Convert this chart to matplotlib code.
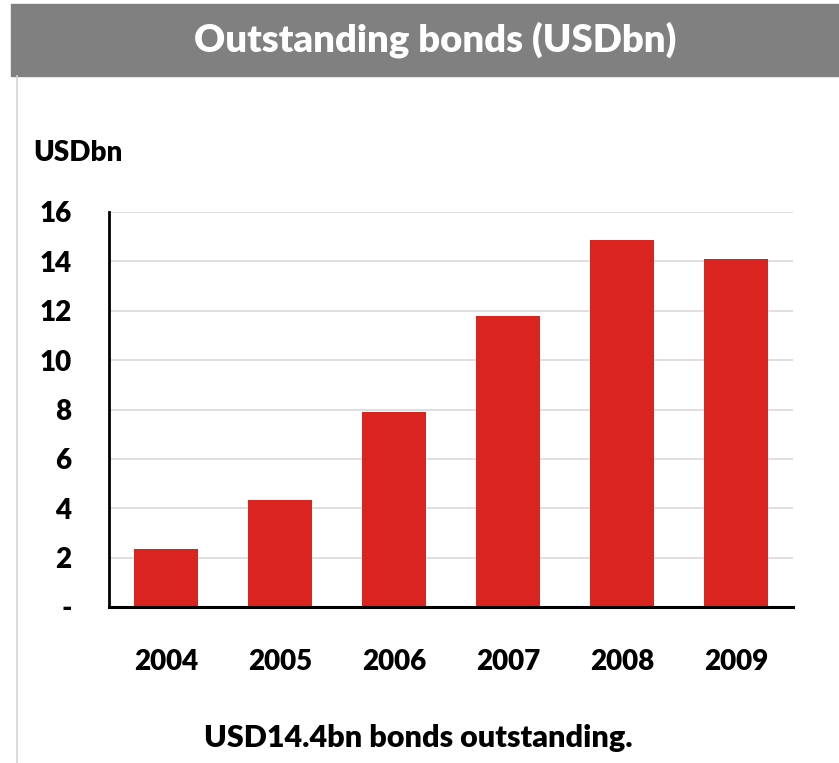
import matplotlib
matplotlib.use('Agg')
import matplotlib.pyplot as plt
import matplotlib.patheffects as pe
from matplotlib.patches import Rectangle
from matplotlib.lines import Line2D

# ── Data ──────────────────────────────────────────────────────────────────────
years = ['2004', '2005', '2006', '2007', '2008', '2009']
outstanding = [2.35, 4.33, 7.9, 11.8, 14.88, 14.1]
y_ticks = [0, 2, 4, 6, 8, 10, 12, 14, 16]
y_tick_labels = ['-', '2', '4', '6', '8', '10', '12', '14', '16']

W, H = 839, 763
FONT = ['Lato', 'DejaVu Sans']
plt.rcParams['font.family'] = FONT
WEIGHT = 'heavy'

fig = plt.figure(figsize=(W / 100, H / 100), dpi=100)

# ── Header band and frame ─────────────────────────────────────────────────────
fig.patches.append(Rectangle((11 / W, 1 - 76 / H), 1 - 11 / W, 72 / H,
                             transform=fig.transFigure, color='#808080', zorder=0))
fig.lines.append(Line2D([17 / W, 17 / W], [0, 1 - 76 / H], transform=fig.transFigure,
                        color='#d4d4d4', lw=1.2))
fig.text(435 / W, 1 - 40 / H, 'Outstanding bonds (USDbn)', color='white',
         fontsize=27.5, fontweight=WEIGHT, ha='center', va='center')

# ── Axes ──────────────────────────────────────────────────────────────────────
ax = fig.add_axes([109 / W, 1 - 607 / H, (793 - 109) / W, (607 - 212) / H])
x = range(len(years))
bars = ax.bar(x, outstanding, width=0.57, color='#da241f', zorder=3)
for b in bars:
    b.set_path_effects([pe.SimplePatchShadow(offset=(0, -3), shadow_rgbFace='#999999', alpha=0.4),
                        pe.Normal()])

ax.set_xlim(-0.5, len(years) - 0.5)
ax.set_ylim(0, 16)
ax.set_yticks(y_ticks)
ax.set_yticklabels(y_tick_labels)
ax.set_xticks(list(x))
ax.set_xticklabels(years)
ax.tick_params(axis='both', length=0, labelsize=20)
ax.tick_params(axis='y', pad=27)
ax.tick_params(axis='x', pad=30)
for lbl in ax.get_xticklabels() + ax.get_yticklabels():
    lbl.set_fontweight(WEIGHT)

ax.yaxis.grid(True, color='#d9d9d9', lw=1.2, zorder=0)
ax.set_axisbelow(True)
for side in ['top', 'right']:
    ax.spines[side].set_visible(False)
ax.spines['left'].set_linewidth(2)
ax.spines['bottom'].set_linewidth(2.2)
ax.spines['left'].set_zorder(5)
ax.spines['bottom'].set_zorder(5)

fig.text(33 / W, 1 - 153 / H, 'USDbn', fontsize=20, fontweight=WEIGHT, ha='left', va='center')
fig.text(418 / W, 1 - 738 / H, 'USD14.4bn bonds outstanding.', fontsize=22,
         fontweight=WEIGHT, ha='center', va='center')

fig.savefig('out.png', dpi=100)
